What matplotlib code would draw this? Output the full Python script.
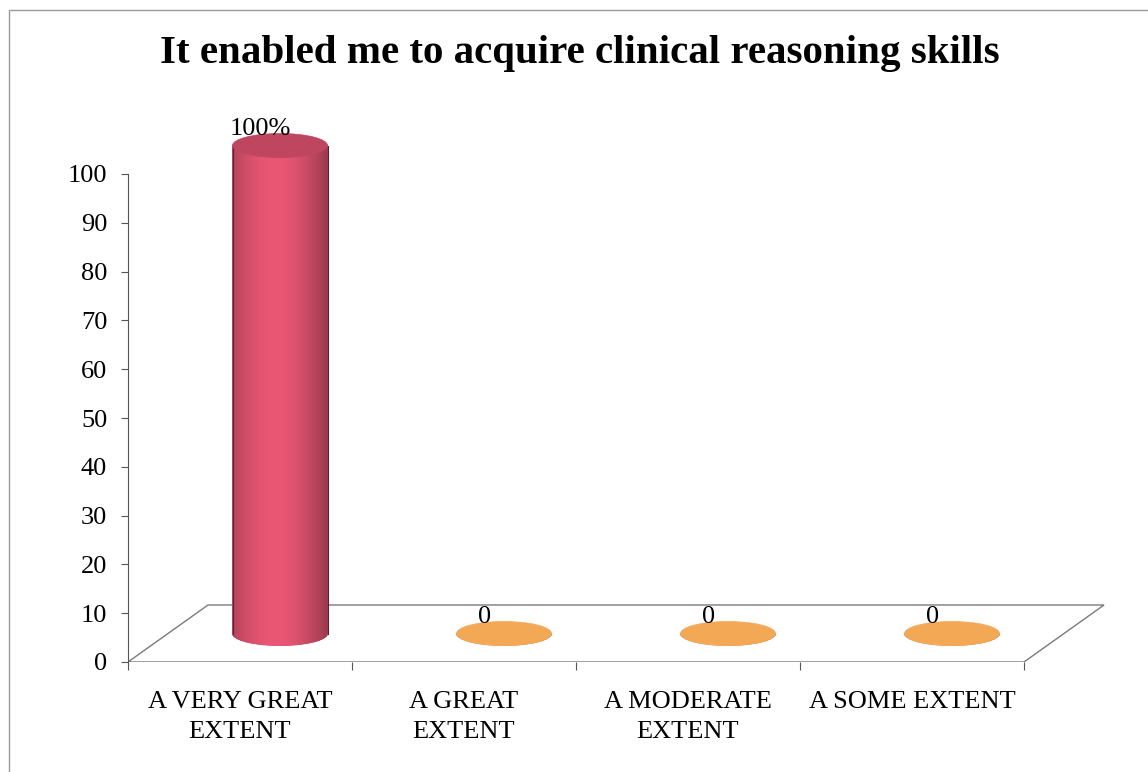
import numpy as np
import matplotlib.pyplot as plt
from matplotlib.patches import Polygon, Ellipse, Rectangle
from matplotlib.colors import to_rgb

categories = ['A VERY GREAT\nEXTENT', 'A GREAT\nEXTENT', 'A MODERATE\nEXTENT', 'A SOME EXTENT']
values = [100, 0, 0, 0]
value_labels = ['100%', '0', '0', '0']
bar_colors = ['#d8506c', '#f2a855', '#f2a855', '#f2a855']
yticks = list(range(0, 101, 10))
title = 'It enabled me to acquire clinical reasoning skills'

plt.rcParams['font.family'] = ['Liberation Serif', 'DejaVu Serif']

W, H = 1148, 772
fig = plt.figure(figsize=(W / 100, H / 100), dpi=100)

# axes placed in pixel terms: x=-0.5 at 128px, 224px per category, 4.88px per unit
ax_l, ax_r, ax_b, ax_t = 128, 1110, 662, 130
ax = fig.add_axes([ax_l / W, 1 - ax_b / H, (ax_r - ax_l) / W, (ax_b - ax_t) / H])
px_x, px_y = 224.0, 4.88
ax.set_xlim(-0.5, -0.5 + (ax_r - ax_l) / px_x)
ax.set_ylim(0, (ax_b - ax_t) / px_y)

# fake 3d depth
dx = 80 / px_x
dy = 57 / px_y
n = len(categories)

# floor
floor = Polygon([(-0.5, 0), (n - 0.5, 0), (n - 0.5 + dx, dy), (-0.5 + dx, dy)],
                closed=True, facecolor='white', edgecolor='#7a7a7a', lw=1.0, zorder=1)
ax.add_patch(floor)

# cylinders
rx = 0.5 * 95 / px_x
ry = 12 / px_y
yb = dy / 2
ts = np.linspace(-1, 1, 121)
for i, (v, col) in enumerate(zip(values, bar_colors)):
    cx = i + dx / 2
    base = np.array(to_rgb(col))
    for t0, t1 in zip(ts[:-1], ts[1:]):
        tm = (t0 + t1) / 2
        shade = 0.68 + 0.4 * np.cos((tm + 0.1) * np.pi / 2.4)
        c = np.clip(base * shade, 0, 1)
        tt = np.linspace(t0, t1, 4)
        xs = cx + rx * tt
        bot = yb - ry * np.sqrt(np.clip(1 - tt ** 2, 0, 1))
        pts = list(zip(xs, bot)) + [(cx + rx * t1, yb + v), (cx + rx * t0, yb + v)]
        ax.add_patch(Polygon(pts, closed=True, facecolor=c, edgecolor=c, lw=0.6, zorder=3))
    if v > 0:
        ax.plot([cx - rx, cx - rx], [yb, yb + v], color='#5a2030', lw=0.8, zorder=4)
        ax.plot([cx + rx, cx + rx], [yb, yb + v], color='#5a2030', lw=0.8, zorder=4)
        top_col = np.clip(base * 0.88, 0, 1)
    else:
        top_col = base
    ax.add_patch(Ellipse((cx, yb + v), 2 * rx, 2 * ry, facecolor=top_col,
                         edgecolor=top_col, lw=0.5, zorder=5))
    ax.text(i + 0.09, v + 9.2, value_labels[i], ha='center', va='center',
            fontsize=19, zorder=6)

# axes styling
for s in ['top', 'right', 'bottom']:
    ax.spines[s].set_visible(False)
ax.spines['left'].set_bounds(0, 100)
ax.spines['left'].set_color('#555555')
ax.set_yticks(yticks)
ax.tick_params(axis='y', labelsize=19, length=5, pad=10, color='#555555')
ax.set_xticks(np.arange(n + 1) - 0.5)
ax.set_xticklabels([])
ax.tick_params(axis='x', which='major', length=6, color='#555555')
ax.set_xticks(np.arange(n), minor=True)
ax.set_xticklabels(categories, minor=True, fontsize=19, linespacing=1.45, va='top')
ax.tick_params(axis='x', which='minor', length=0, pad=21)
ax.patch.set_alpha(0)

fig.text(580 / W, 1 - 53 / H, title, ha='center', va='center', fontsize=29.5, fontweight='bold')
fig.patches.append(Rectangle((9 / W, -0.1), 1.2, 1.1 - 10 / H, transform=fig.transFigure,
                             fill=False, edgecolor='#9a9a9a', lw=1.0))

fig.savefig('out.png', dpi=100)
